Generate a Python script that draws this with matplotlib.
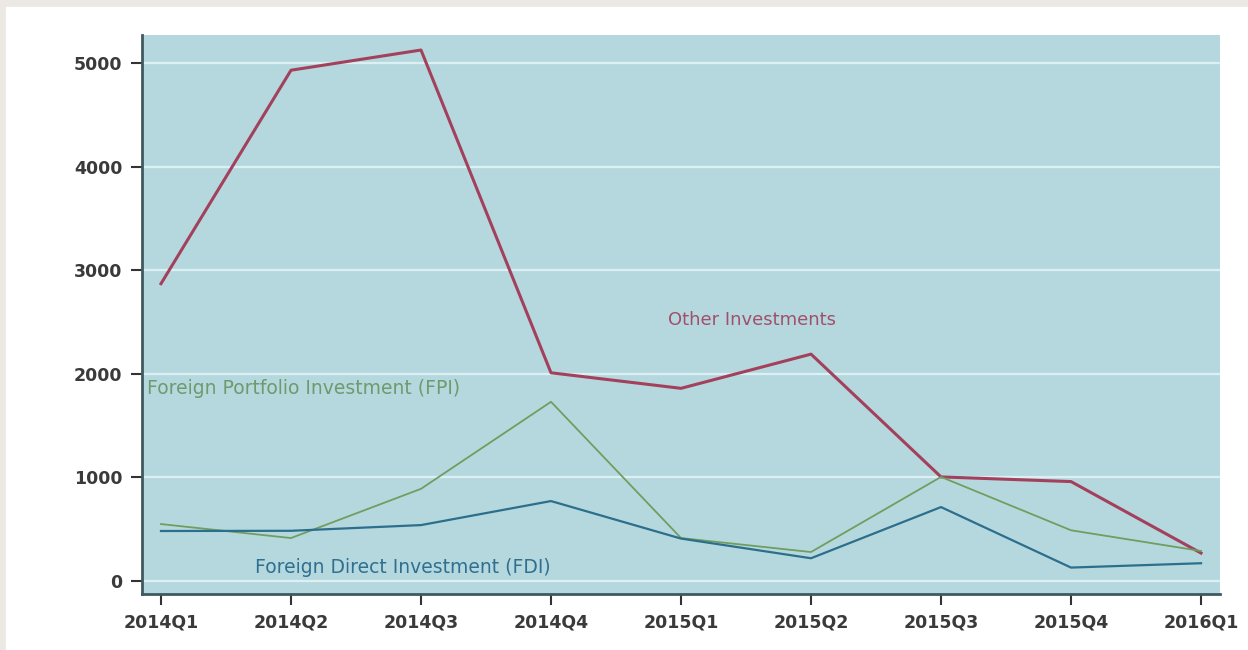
import matplotlib.pyplot as plt
import matplotlib.patches as mpatches

# data
quarters = ['2014Q1', '2014Q2', '2014Q3', '2014Q4', '2015Q1',
            '2015Q2', '2015Q3', '2015Q4', '2016Q1']
other_inv = [2870, 4930, 5125, 2010, 1860, 2190, 1005, 960, 270]
fpi = [550, 415, 890, 1730, 415, 280, 1005, 490, 290]
fdi = [483, 485, 540, 772, 410, 220, 714, 130, 172]
yticks = [0, 1000, 2000, 3000, 4000, 5000]

fig = plt.figure(figsize=(12.48, 6.5), dpi=100)

# beige page border + white panel
fig.patches.append(mpatches.Rectangle((0, 0), 1, 1, transform=fig.transFigure,
                                      color='#ece8e3', zorder=-10))
fig.patches.append(mpatches.Rectangle((6 / 1248, 0), 1, (650 - 7) / 650,
                                      transform=fig.transFigure,
                                      color='white', zorder=-9))

ax = fig.add_axes([142 / 1248, 56 / 650, (1220 - 142) / 1248, (594 - 35) / 650])
ax.set_facecolor('#b5d8df')

x = list(range(len(quarters)))
ax.plot(x, other_inv, color='#a3405c', lw=2.2, zorder=3)
ax.plot(x, fpi, color='#6f9e5f', lw=1.3, zorder=3)
ax.plot(x, fdi, color='#2c6f8c', lw=1.6, zorder=3)

ax.text(3.9, 2520, 'Other Investments', color='#a0506a', fontsize=13,
        va='center', ha='left')
ax.text(-0.108, 1860, 'Foreign Portfolio Investment (FPI)', color='#6e9a6e',
        fontsize=13.5, va='center', ha='left')
ax.text(0.72, 135, 'Foreign Direct Investment (FDI)', color='#2f7090',
        fontsize=13.5, va='center', ha='left')

ax.set_xlim(-0.146, 8.146)
ax.set_ylim(-125, 5270)
ax.set_xticks(x)
ax.set_xticklabels(quarters)
ax.set_yticks(yticks)
ax.set_yticklabels([str(v) for v in yticks])
ax.grid(axis='y', color='#dcf0f3', lw=1.6, zorder=1)
ax.set_axisbelow(True)

for s in ['top', 'right']:
    ax.spines[s].set_visible(False)
for s in ['left', 'bottom']:
    ax.spines[s].set_color('#3e5a60')
    ax.spines[s].set_linewidth(2)

ax.tick_params(axis='both', colors='#333333', labelsize=12.5, length=8,
               width=1.5, pad=6)
for lab in ax.get_xticklabels() + ax.get_yticklabels():
    lab.set_color('#3a3a3a')
    lab.set_fontweight('bold')

plt.savefig('out.png', dpi=100)
